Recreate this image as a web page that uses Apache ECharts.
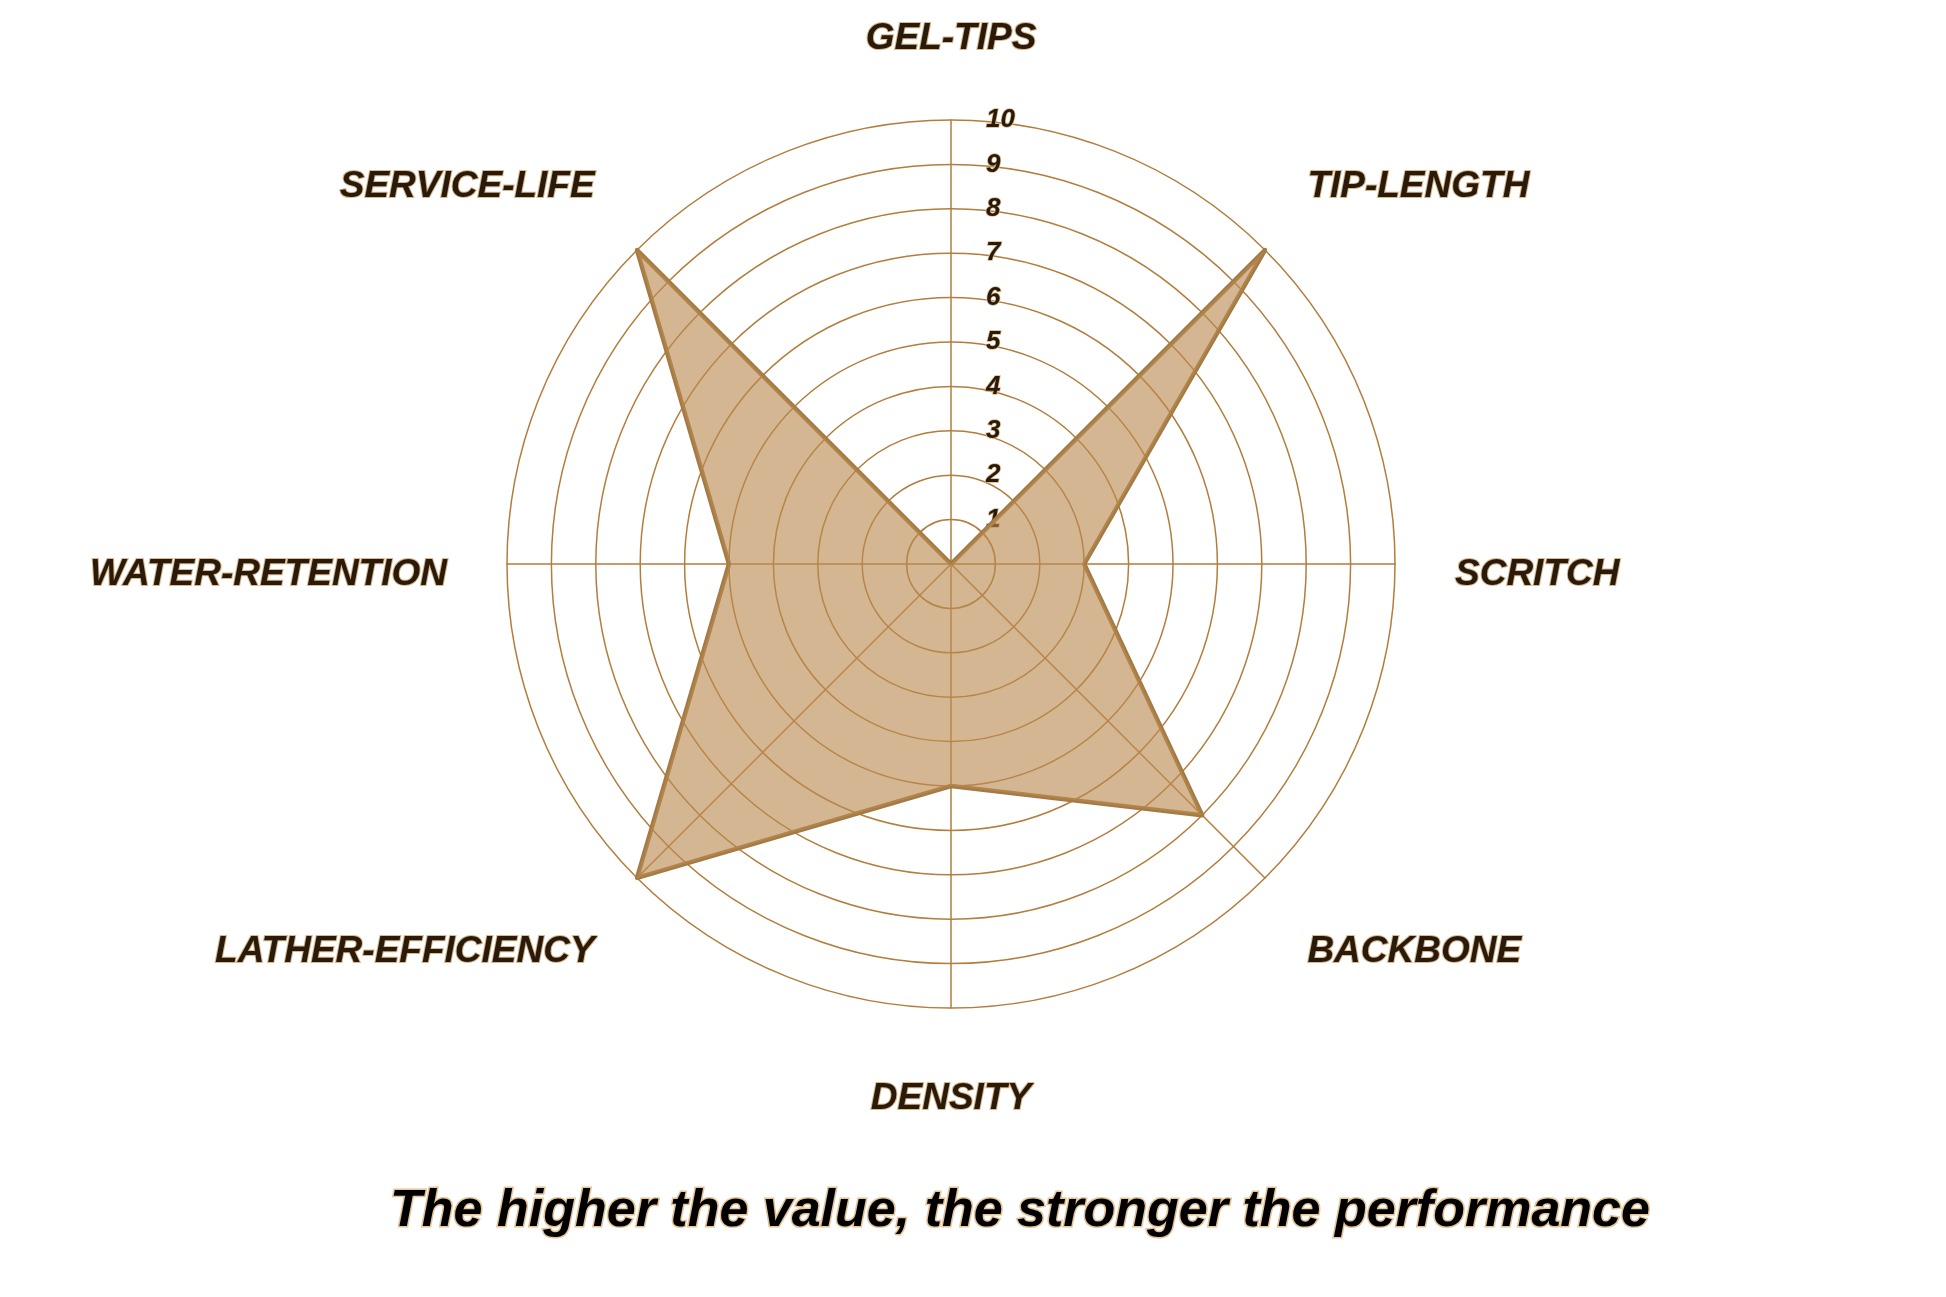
<!DOCTYPE html>
<html>
<head>
<meta charset="utf-8">
<script src="https://cdn.jsdelivr.net/npm/echarts@6/dist/echarts.min.js"></script>
<style>
html,body{margin:0;padding:0;background:#fff;}
#chart{width:1946px;height:1297px;}
</style>
</head>
<body>
<div id="chart"></div>
<script>
// Indicators listed counter-clockwise from the top (ECharts radar order)
const indicatorNames = ['GEL-TIPS', 'SERVICE-LIFE', 'WATER-RETENTION', 'LATHER-EFFICIENCY', 'DENSITY', 'BACKBONE', 'SCRITCH', 'TIP-LENGTH'];
const indicatorMax = 10;
const performanceValues = [0, 10, 5, 10, 5, 8, 3, 10];
const subtitleText = 'The higher the value, the stronger the performance';

const nameStyleKey = {
  'GEL-TIPS': 'top',
  'SERVICE-LIFE': 'up',
  'TIP-LENGTH': 'up',
  'WATER-RETENTION': 'side',
  'SCRITCH': 'side',
  'LATHER-EFFICIENCY': 'down',
  'BACKBONE': 'down',
  'DENSITY': 'bottom'
};

const lineColor = '#b37d3c';
const textDark = '#2a1a0b';
const textHalo = '#d9b98c';

const chart = echarts.init(document.getElementById('chart'));
const commonRadar = {
  center: [951, 564],
  radius: 444,
  startAngle: 90,
  splitNumber: 10,
  shape: 'circle'
};

chart.setOption({
  backgroundColor: '#ffffff',
  radar: [
    Object.assign({}, commonRadar, {
      indicator: indicatorNames.map(n => ({ name: n, max: indicatorMax, min: 0 })),
      axisName: {
        color: textDark,
        fontFamily: 'Liberation Sans, Arial, sans-serif',
        fontSize: 37,
        fontWeight: 'bold',
        fontStyle: 'italic',
        textBorderColor: textHalo,
        textBorderWidth: 2,
        formatter: function (name) {
          return '{' + (nameStyleKey[name] || 'side') + '|' + name + '}';
        },
        rich: {
          top: { padding: [0, 0, 3, 0] },
          side: { padding: [22, 0, 0, 0] },
          bottom: { padding: [12, 0, 0, 0] },
          up: { padding: [0, 0, 42, 0] },
          down: { padding: [62, 0, 0, 0] }
        }
      },
      nameGap: 60,
      axisLine: { show: true, lineStyle: { color: lineColor, width: 1.5 } },
      splitLine: { show: true, lineStyle: { color: lineColor, width: 1.5 } },
      splitArea: { show: false },
      axisTick: { show: false },
      axisLabel: { show: false }
    }),
    Object.assign({}, commonRadar, {
      indicator: [{ name: '', max: indicatorMax, min: 0 }],
      axisName: { show: false },
      axisLine: { show: false },
      splitLine: { show: false },
      splitArea: { show: false },
      axisTick: { show: false },
      axisLabel: {
        show: true,
        margin: -35,
        align: 'left',
        color: textDark,
        fontFamily: 'Liberation Sans, Arial, sans-serif',
        fontSize: 26,
        fontWeight: 'bold',
        fontStyle: 'italic',
        textBorderColor: textHalo,
        textBorderWidth: 1.5,
        showMinLabel: false,
        formatter: function (v) { return v === 0 ? '' : String(v); }
      }
    })
  ],
  series: [{
    type: 'radar',
    radarIndex: 0,
    symbol: 'none',
    z: 1,
    lineStyle: { color: '#a47a45', width: 4.5 },
    areaStyle: { color: '#b98a4f', opacity: 0.62 },
    data: [{ value: performanceValues, name: 'Performance' }]
  }],
  graphic: [{
    type: 'text',
    x: 1020,
    y: 1212,
    style: {
      text: subtitleText,
      align: 'center',
      verticalAlign: 'middle',
      fontFamily: 'Liberation Sans, Arial, sans-serif',
      fontSize: 52,
      fontWeight: 'bold',
      fontStyle: 'italic',
      fill: '#000000',
      stroke: '#e5c497',
      lineWidth: 3
    }
  }]
});
</script>
</body>
</html>
